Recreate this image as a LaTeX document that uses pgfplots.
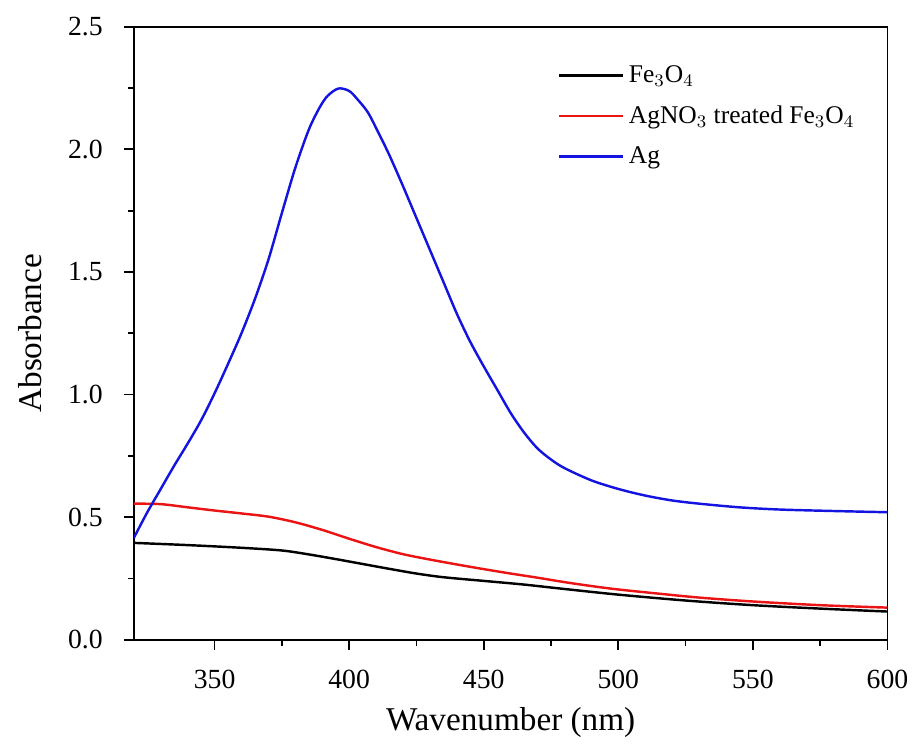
\documentclass[border={5pt 2pt 2pt 4.5pt}]{standalone}
\usepackage{fontspec}
\setmainfont{Liberation Serif}
\usepackage{pgfplots}
\pgfplotsset{compat=1.18}

\definecolor{agblue}{RGB}{20,20,225}
\definecolor{agred}{RGB}{235,20,20}

\begin{document}
\begin{tikzpicture}
\begin{axis}[
    width=340.2pt, height=276.75pt,
    scale only axis,
    xmin=320, xmax=600,
    ymin=0, ymax=2.5,
    xtick={350,400,...,600},
    ytick={0,0.5,...,2.5},
    minor x tick num=1,
    minor y tick num=1,
    tick pos=left,
    tick align=outside,
    major tick length=4.5pt,
    minor tick length=2.7pt,
    every tick/.style={black, line width=0.8pt},
    axis line style={line width=0.8pt},
    /pgf/number format/assume math mode=true,
    xticklabel style={font=\fontsize{12.5}{14}\selectfont, yshift=-5.5pt},
    yticklabel style={font=\fontsize{12.5}{14}\selectfont, xshift=-6pt,
        /pgf/number format/fixed, /pgf/number format/fixed zerofill,
        /pgf/number format/precision=1},
    xlabel={Wavenumber (nm)},
    ylabel={Absorbance},
    label style={font=\fontsize{15}{17}\selectfont},
    xlabel style={at={(axis description cs:0.5,-0.135)}, anchor=center},
    ylabel style={at={(axis description cs:-0.1376,0.5)}, anchor=center},
    legend style={draw=none, fill=none, at={(0.562,0.945)}, anchor=north west,
        font=\fontsize{11.5}{13}\selectfont, row sep=5pt, inner sep=0pt},
    legend cell align=left,
    legend image code/.code={\draw[#1] (0pt,0pt) -- (29pt,0pt);},
]

%% Fe3O4
\addplot[black, line width=1.1pt, smooth] coordinates {
(320,0.395) (340,0.386) (360,0.375) (375,0.364) (385,0.348) (395,0.329)
(405,0.309) (415,0.289) (425,0.270) (435,0.255) (450,0.240) (465,0.225)
(480,0.207) (500,0.184) (525,0.160) (550,0.141) (575,0.127) (600,0.115)
};
\addlegendentry{Fe$_3$O$_4$}

%% AgNO3 treated Fe3O4
\addplot[agred, line width=1.1pt, smooth] coordinates {
(320,0.555) (330,0.553) (340,0.540) (350,0.527) (360,0.515) (370,0.502)
(380,0.479) (390,0.448) (400,0.412) (410,0.378) (420,0.349) (430,0.327)
(440,0.307) (450,0.288) (460,0.270) (470,0.253) (480,0.235) (490,0.219)
(500,0.205) (515,0.188) (530,0.172) (550,0.156) (575,0.141) (600,0.131)
};
\addlegendentry{AgNO$_3$ treated Fe$_3$O$_4$}

%% Ag
\addplot[agblue, line width=1.1pt, smooth] coordinates {
(320,0.415) (325,0.520) (330,0.615) (335,0.710) (340,0.800) (345,0.895)
(350,1.005) (355,1.125) (360,1.250) (365,1.390) (370,1.550) (375,1.740)
(380,1.925) (385,2.080) (389,2.170) (392,2.218) (396,2.248) (400,2.238)
(403,2.205) (407,2.150) (411,2.065) (415,1.975) (420,1.850) (425,1.720)
(430,1.590) (435,1.460) (440,1.330) (445,1.215) (450,1.115) (455,1.020)
(460,0.925) (465,0.845) (470,0.780) (475,0.735) (480,0.700) (490,0.650)
(500,0.615) (510,0.588) (520,0.568) (530,0.555) (545,0.540) (560,0.531)
(580,0.525) (600,0.520)
};
\addlegendentry{Ag}

\end{axis}
\end{tikzpicture}
\end{document}
